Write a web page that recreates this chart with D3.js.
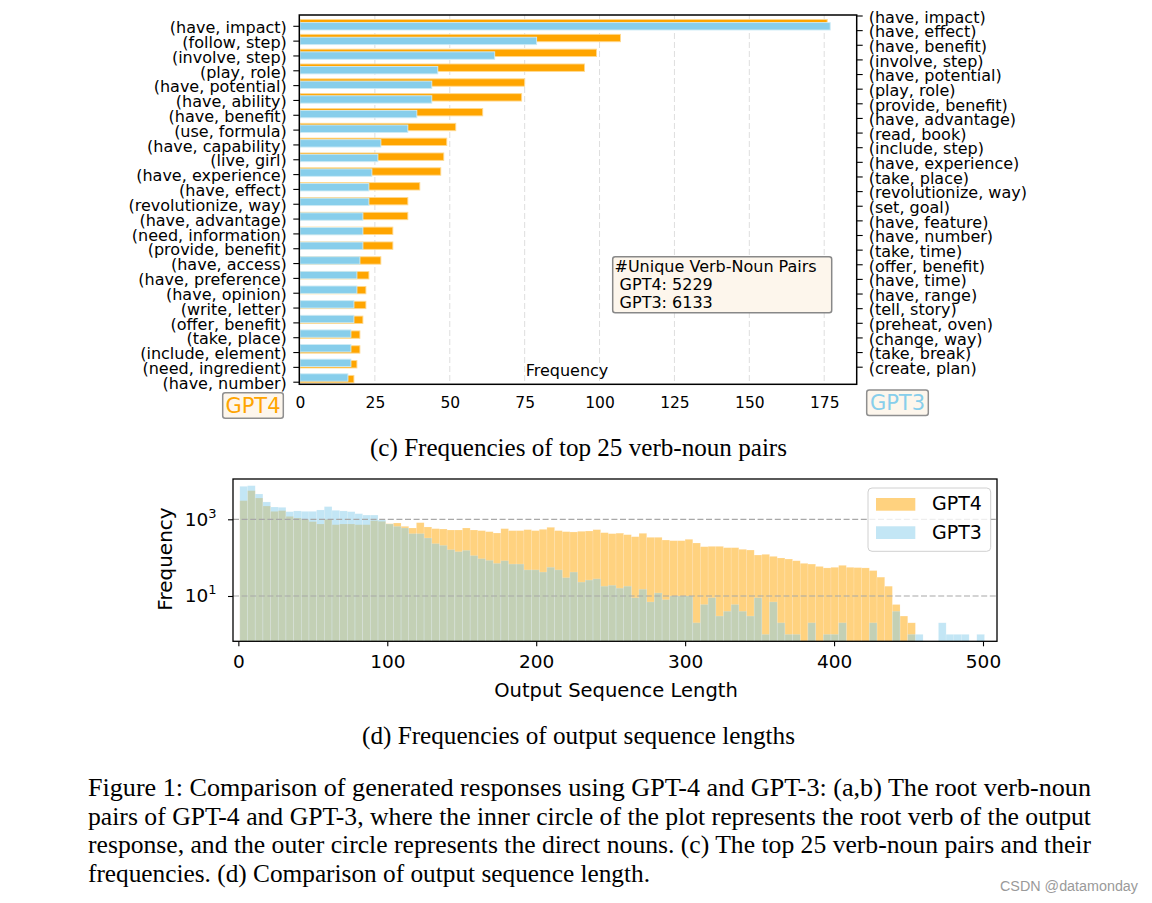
<!DOCTYPE html>
<html><head><meta charset="utf-8">
<script src="https://cdn.jsdelivr.net/npm/d3@7"></script>
<style>body{margin:0;background:#fff}svg{display:block}</style>
</head><body>
<svg id="c" width="1152" height="903"></svg>
<script>
// ---------- data: panel (c) ----------
const gpt4Pairs = ["(have, impact)","(follow, step)","(involve, step)","(play, role)","(have, potential)","(have, ability)","(have, benefit)","(use, formula)","(have, capability)","(live, girl)","(have, experience)","(have, effect)","(revolutionize, way)","(have, advantage)","(need, information)","(provide, benefit)","(have, access)","(have, preference)","(have, opinion)","(write, letter)","(offer, benefit)","(take, place)","(include, element)","(need, ingredient)","(have, number)"];
const gpt4Counts = [176,107,99,95,75,74,61,52,49,48,47,40,36,36,31,31,27,23,22,22,21,20,20,19,18];
const gpt3Pairs = ["(have, impact)","(have, effect)","(have, benefit)","(involve, step)","(have, potential)","(play, role)","(provide, benefit)","(have, advantage)","(read, book)","(include, step)","(have, experience)","(take, place)","(revolutionize, way)","(set, goal)","(have, feature)","(have, number)","(take, time)","(offer, benefit)","(have, time)","(have, range)","(tell, story)","(preheat, oven)","(change, way)","(take, break)","(create, plan)"];
const gpt3Counts = [177,79,65,46,44,44,39,36,27,26,24,23,23,21,21,21,20,19,19,18,18,17,17,17,16];
const barTicks = [0,25,50,75,100,125,150,175];
const uniqueNote = ["#Unique Verb-Noun Pairs"," GPT4: 5229"," GPT3: 6133"];
const seriesNames = ["GPT4","GPT3"];

// ---------- data: panel (d) ----------
const histBinStart = 1;
const histBinWidth = 500/97;
const gpt4Hist = [3060,5580,3590,2220,1610,1680,1190,1080,1000,868,
  754,1000,724,754,754,724,724,921,885,769,
  801,656,593,817,630,570,558,526,526,593,
  526,506,476,439,570,506,506,537,506,547,
  618,506,476,467,486,495,537,448,422,435,
  397,352,431,339,339,288,277,277,301,241,
  193,197,197,182,182,165,158,117,122,108,
  98,92,83,71,68,59,54,56,63,56,
  55,54,46,31,18,6,3,2];
const gpt3Hist = [7240,7530,4570,2830,2090,2050,1580,1650,1610,1610,
  1750,2140,1710,1650,1580,1400,1290,1290,960,754,
  656,593,422,422,325,232,209,161,143,155,
  113,94,85,71,83,68,68,48,48,42,
  56,48,30,42,23,26,28,18,19,16,
  18,9,15,7,12,8,10,10,10,2,
  6,9,3,4,6,4,3,9,1,7,
  2,1,1,0,2,0,1,1,2,0,
  0,0,2,0,0,4,0,1,1,0,
  0,2,1,1,1,0,1];
const histXTicks = [0,100,200,300,400,500];
const histYTicks = [10,1000];

// ---------- captions ----------
const captionC = "(c) Frequencies of top 25 verb-noun pairs";
const captionD = "(d) Frequencies of output sequence lengths";
const figureCaption = [
  "Figure 1: Comparison of generated responses using GPT-4 and GPT-3: (a,b) The root verb-noun",
  "pairs of GPT-4 and GPT-3, where the inner circle of the plot represents the root verb of the output",
  "response, and the outer circle represents the direct nouns. (c) The top 25 verb-noun pairs and their",
  "frequencies. (d) Comparison of output sequence length."
];
const watermark = "CSDN @datamonday";

// ---------- drawing ----------
const ORANGE = "#FFA500", SKY = "#87CEEB";
const sans = "'DejaVu Sans', sans-serif";
const serif = "'Liberation Serif','Times New Roman',serif";
const svg = d3.select("#c");
svg.append("rect").attr("width",1152).attr("height",903).attr("fill","#fff");

function styleAxis(g, size){
  g.attr("font-family", sans).attr("font-size", size);
  g.select(".domain").remove();
  g.selectAll(".tick line").attr("stroke","#000").attr("stroke-width",1.1);
  g.selectAll(".tick text").attr("fill","#000");
}

// ===== Panel (c) =====
const pTop = 15, pBot = 384.3, pLeft = 299.3, pRight = 856.7;
const bx = d3.scaleLinear().domain([0,185.85]).range([300,856.7]);
const byL = d3.scaleLinear().domain([0,24]).range([25.8,381.7]);
const byR = d3.scaleLinear().domain([0,24]).range([15.5,366.7]);
const barH = 7.4;

svg.append("g").selectAll("line").data(barTicks.filter(d=>d>0)).join("line")
  .attr("x1",d=>bx(d)).attr("x2",d=>bx(d)).attr("y1",pTop).attr("y2",pBot)
  .attr("stroke","#dedede").attr("stroke-width",1).attr("stroke-dasharray","6,3");

svg.append("g").selectAll("rect").data(gpt4Counts).join("rect")
  .attr("x",bx(0)).attr("y",(d,i)=>byL(i)-2.6-barH/2)
  .attr("width",d=>bx(d)-bx(0)).attr("height",barH)
  .attr("fill",ORANGE).attr("stroke","#ffd98f").attr("stroke-width",0.9);
svg.append("g").selectAll("rect").data(gpt3Counts).join("rect")
  .attr("x",bx(0)).attr("y",(d,i)=>byR(i)+10.8-barH/2)
  .attr("width",d=>bx(d)-bx(0)).attr("height",barH)
  .attr("fill",SKY).attr("stroke","#cdebf6").attr("stroke-width",0.9);

svg.append("rect").attr("x",pLeft).attr("y",pTop).attr("width",pRight-pLeft).attr("height",pBot-pTop)
  .attr("fill","none").attr("stroke","#000").attr("stroke-width",1.5);

const axL = d3.axisLeft(byL).tickValues(d3.range(gpt4Pairs.length)).tickFormat(i=>gpt4Pairs[i]).tickSize(6).tickPadding(6.5);
svg.append("g").attr("transform",`translate(${pLeft},0)`).call(axL)
  .call(g=>styleAxis(g,16)).selectAll(".tick text").attr("dy","0.42em");
const axR = d3.axisRight(byR).tickValues(d3.range(gpt3Pairs.length)).tickFormat(i=>gpt3Pairs[i]).tickSize(6).tickPadding(6);
svg.append("g").attr("transform",`translate(${pRight},0)`).call(axR)
  .call(g=>styleAxis(g,16)).selectAll(".tick text").attr("dy","0.42em");
const axB = d3.axisBottom(bx).tickValues(barTicks).tickSize(0).tickPadding(13);
svg.append("g").attr("transform",`translate(0,${pBot})`).call(axB).call(g=>styleAxis(g,15.5));

svg.append("text").attr("x",567).attr("y",375.5).attr("text-anchor","middle")
  .attr("font-family",sans).attr("font-size",16).text("Frequency");

svg.append("rect").attr("x",612.7).attr("y",256.7).attr("width",219).attr("height",56).attr("rx",2.5)
  .attr("fill","#fdf6ec").attr("stroke","#888").attr("stroke-width",1.5);
svg.append("g").selectAll("text").data(uniqueNote).join("text")
  .attr("x",614.5).attr("y",(d,i)=>271.5+i*18.2)
  .attr("font-family",sans).attr("font-size",16).style("white-space","pre").text(d=>d);

const labelBoxes = [
  {name:seriesNames[0], color:ORANGE, x:222.7, y:392.7, w:60.6, h:25.6, by:413.3},
  {name:seriesNames[1], color:SKY, x:866.7, y:390, w:61.6, h:25.4, by:410}
];
labelBoxes.forEach(b=>{
  svg.append("rect").attr("x",b.x).attr("y",b.y).attr("width",b.w).attr("height",b.h).attr("rx",2.5)
    .attr("fill","#fdf6ec").attr("stroke","#8f8f8f").attr("stroke-width",1.5);
  svg.append("text").attr("x",b.x+b.w/2).attr("y",b.by).attr("text-anchor","middle")
    .attr("font-family",sans).attr("font-size",21).attr("fill",b.color).text(b.name);
});

svg.append("text").attr("x",578.5).attr("y",455.5).attr("text-anchor","middle")
  .attr("font-family",serif).attr("font-size",24.5)
  .attr("textLength",417).attr("lengthAdjust","spacingAndGlyphs").text(captionC);

// ===== Panel (d) =====
const hTop = 479, hBot = 641.3, hLeft = 233, hRight = 997;
const hx = d3.scaleLinear().domain([-3.6,509.4]).range([hLeft,hRight]);
const hy = d3.scaleLog().domain([Math.pow(10,-0.1812),Math.pow(10,4.0508)]).range([hBot,hTop]);

function drawHist(data, color){
  svg.append("g").selectAll("rect").data(data.map((v,i)=>({v,i})).filter(d=>d.v>0)).join("rect")
    .attr("x",d=>hx(histBinStart+d.i*histBinWidth))
    .attr("width",d=>hx(histBinStart+(d.i+1)*histBinWidth)-hx(histBinStart+d.i*histBinWidth))
    .attr("y",d=>hy(d.v)).attr("height",d=>hBot-hy(d.v))
    .attr("fill",color).attr("fill-opacity",0.5)
    .attr("stroke","#fff").attr("stroke-opacity",0.25).attr("stroke-width",0.6);
}
drawHist(gpt4Hist, ORANGE);
drawHist(gpt3Hist, SKY);

svg.append("g").selectAll("line").data(histYTicks).join("line")
  .attr("x1",hLeft).attr("x2",hRight).attr("y1",d=>hy(d)).attr("y2",d=>hy(d))
  .attr("stroke","#a8a8a8").attr("stroke-width",1.2).attr("stroke-dasharray","6,2.6");

svg.append("rect").attr("x",hLeft).attr("y",hTop).attr("width",hRight-hLeft).attr("height",hBot-hTop)
  .attr("fill","none").attr("stroke","#000").attr("stroke-width",1.3);

const axHB = d3.axisBottom(hx).tickValues(histXTicks).tickSize(5).tickPadding(9);
svg.append("g").attr("transform",`translate(0,${hBot})`).call(axHB).call(g=>styleAxis(g,18.5));

const axHL = d3.axisLeft(hy).tickValues(histYTicks).tickFormat("").tickSize(5);
svg.append("g").attr("transform",`translate(${hLeft},0)`).call(axHL).call(g=>styleAxis(g,18.5));
histYTicks.forEach(t=>{
  const txt = svg.append("text").attr("x",216.5).attr("y",hy(t)+6.3).attr("text-anchor","end")
    .attr("font-family",sans).attr("font-size",18.5);
  txt.append("tspan").text("10");
  txt.append("tspan").attr("font-size",13).attr("dy",-8).text(String(Math.round(Math.log10(t))));
});

svg.append("text").attr("x",616).attr("y",696.5).attr("text-anchor","middle")
  .attr("font-family",sans).attr("font-size",19.5).text("Output Sequence Length");
svg.append("text").attr("transform","translate(171.5,559) rotate(-90)").attr("text-anchor","middle")
  .attr("font-family",sans).attr("font-size",20).text("Frequency");

svg.append("rect").attr("x",868).attr("y",488).attr("width",122.7).attr("height",63.3).attr("rx",4)
  .attr("fill","#fff").attr("fill-opacity",0.8).attr("stroke","#d0d0d0").attr("stroke-width",1);
[[seriesNames[0],ORANGE],[seriesNames[1],SKY]].forEach((s,i)=>{
  const y0 = 498 + i*28.3;
  svg.append("rect").attr("x",876).attr("y",y0).attr("width",39.3).attr("height",12.7)
    .attr("fill",s[1]).attr("fill-opacity",0.5);
  svg.append("text").attr("x",932).attr("y",y0+12.4).attr("font-family",sans).attr("font-size",19).text(s[0]);
});

svg.append("text").attr("x",578.5).attr("y",743.5).attr("text-anchor","middle")
  .attr("font-family",serif).attr("font-size",24.5)
  .attr("textLength",433).attr("lengthAdjust","spacingAndGlyphs").text(captionD);

figureCaption.forEach((line,i)=>{
  svg.append("text").attr("x",88).attr("y",796+i*28.5)
    .attr("font-family",serif).attr("font-size",25)
    .attr("textLength", i<3 ? 1003 : 562).attr("lengthAdjust","spacingAndGlyphs").text(line);
});

svg.append("text").attr("x",1138).attr("y",891).attr("text-anchor","end")
  .attr("font-family","'Liberation Sans', sans-serif").attr("font-size",14).attr("fill","#9a9a9a")
  .attr("textLength",138).attr("lengthAdjust","spacingAndGlyphs").text(watermark);
</script>
</body></html>
